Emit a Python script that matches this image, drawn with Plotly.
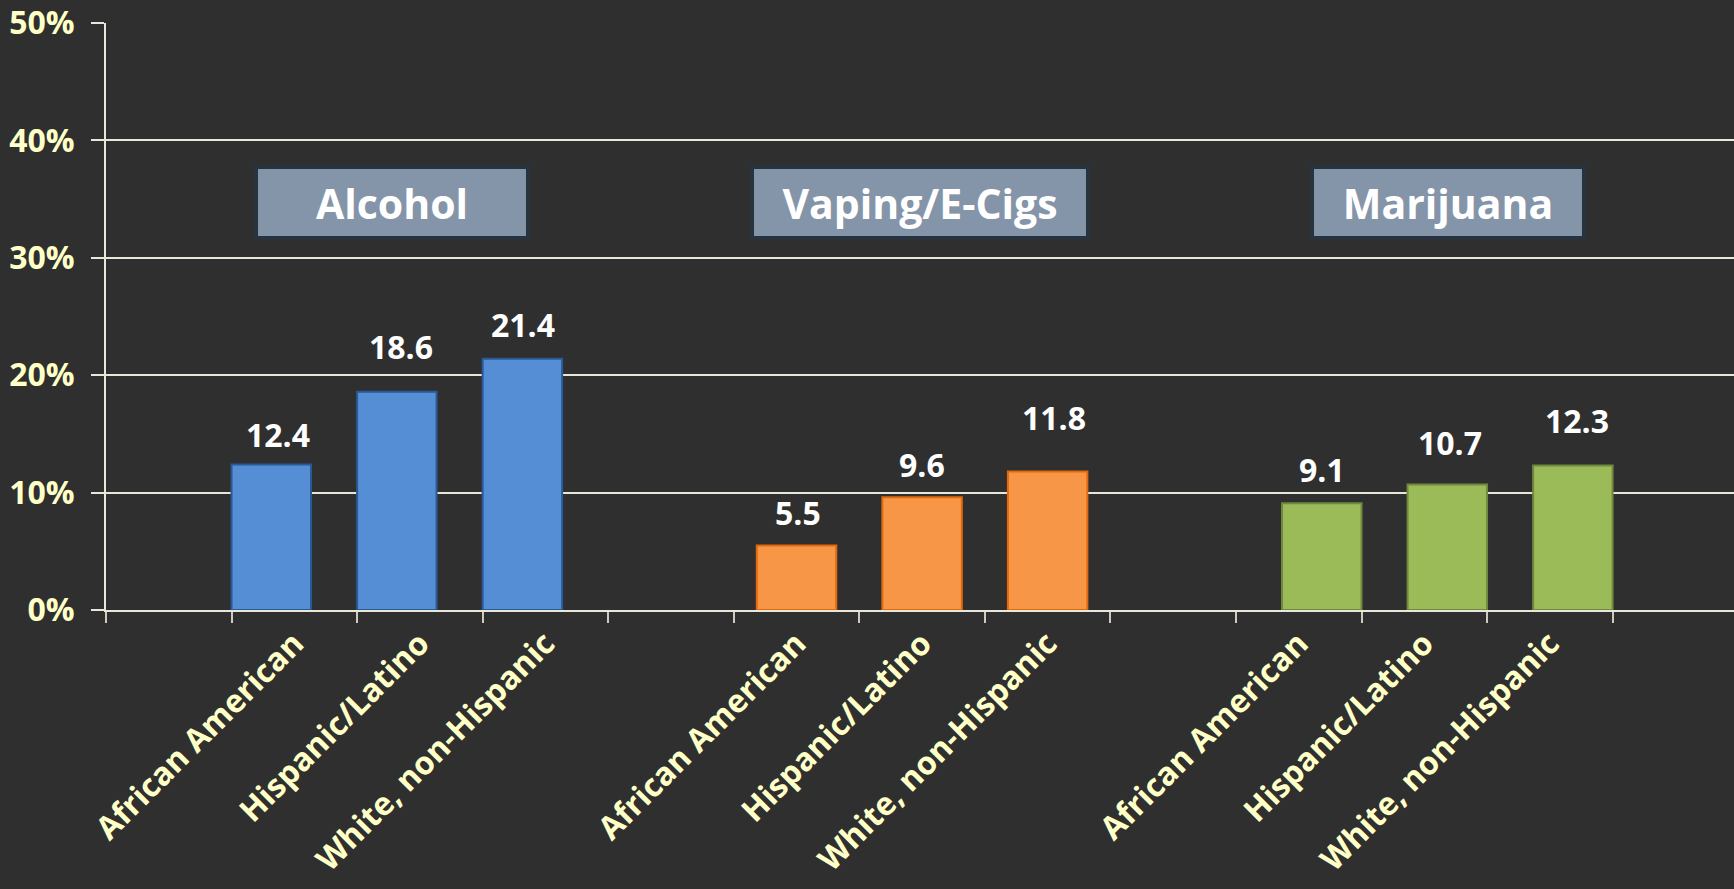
import plotly.graph_objects as go

# Substance groups and the ethnic categories shown under each
groups = ["Alcohol", "Vaping/E-Cigs", "Marijuana"]
ethnicities = ["African American", "Hispanic/Latino", "White, non-Hispanic"]

# Percent of students reporting use, per group
alcohol = [12.4, 18.6, 21.4]
vaping = [5.5, 9.6, 11.8]
marijuana = [9.1, 10.7, 12.3]

y_tick_values = [0, 10, 20, 30, 40, 50]
y_tick_labels = ["0%", "10%", "20%", "30%", "40%", "50%"]

# ---- styling ----
BG = "#2F2F2F"
GRID = "#E9E6DA"
TICK_TXT = "#FFFFC8"
FONT = "Open Sans"
fills = ["#558ED5", "#F79646", "#9BBB59"]
edges = ["#2A5A96", "#E06A0C", "#71893F"]
slot_offsets = [0.3165, 0.5, 0.6835]   # where each group's bars sit inside a slot
bar_width = 0.633
# per-label nudges (px) for the value labels above the bars
label_nudge = [[(7, 6), (4, 22), (1, 11)],
               [(1, 9), (0, 9), (6, 30)],
               [(0, 10), (3, 18), (4, 22)]]
header_x = [0.1757, 0.5, 0.8243]
header_w = [268, 332, 268]

series = [alcohol, vaping, marijuana]
n_slots = 4 * len(groups)

fig = go.Figure()
annotations = []
tick_vals, tick_text = [], []

for gi, (name, vals) in enumerate(zip(groups, series)):
    slots = [gi * 4 + 1 + j for j in range(len(ethnicities))]
    xs = [s + slot_offsets[gi] for s in slots]
    fig.add_trace(go.Bar(
        x=xs, y=vals, width=bar_width, name=name,
        marker=dict(color=fills[gi], line=dict(color=edges[gi], width=2)),
        hoverinfo="skip", showlegend=False,
    ))
    for j, (x, v) in enumerate(zip(xs, vals)):
        dx, dy = label_nudge[gi][j]
        annotations.append(dict(
            x=x, y=v, xref="x", yref="y", text=f"{v:.1f}", showarrow=False,
            yanchor="bottom", xanchor="center", xshift=dx, yshift=dy,
            font=dict(family=FONT, size=32, color="#FFFFFF", weight="bold"),
        ))
    for s, lab in zip(slots, ethnicities):
        tick_vals.append(s + 0.5)
        tick_text.append(lab)
    # group heading box
    annotations.append(dict(
        x=header_x[gi], y=0.6942, xref="paper", yref="paper",
        text=name, showarrow=False, xanchor="center", yanchor="middle",
        width=header_w[gi], height=67, align="center",
        bgcolor="#8595A9", bordercolor="#28333F", borderwidth=4, borderpad=0,
        font=dict(family=FONT, size=41, color="#FFFFFF", weight="bold"),
    ))

fig.update_layout(
    width=1734, height=889,
    margin=dict(l=106, r=0, t=23, b=279),
    paper_bgcolor=BG, plot_bgcolor=BG,
    annotations=annotations,
    barmode="overlay",
    xaxis=dict(
        range=[0, 1628 / 125.55], showgrid=False, zeroline=False,
        showline=True, linecolor=GRID, linewidth=2, automargin=False,
        tickmode="array", tickvals=tick_vals, ticktext=tick_text,
        ticks="", tickangle=-45, ticklabelstandoff=0,
        tickfont=dict(family=FONT, size=32, color=TICK_TXT, weight="bold"),
        minor=dict(tickmode="array", tickvals=list(range(n_slots + 1)),
                   ticks="outside", ticklen=11, tickwidth=2, tickcolor="#CFCBBF",
                   showgrid=False),
    ),
    yaxis=dict(
        range=[0, 50], tickmode="array", tickvals=y_tick_values, ticktext=y_tick_labels,
        showgrid=True, gridcolor=GRID, gridwidth=2, zeroline=False,
        showline=True, linecolor=GRID, linewidth=2, automargin=False,
        ticks="outside", ticklen=13, tickwidth=2, tickcolor=GRID,
        ticklabelstandoff=10,
        tickfont=dict(family=FONT, size=32, color=TICK_TXT, weight="bold"),
    ),
)

fig.write_html("out.html")
